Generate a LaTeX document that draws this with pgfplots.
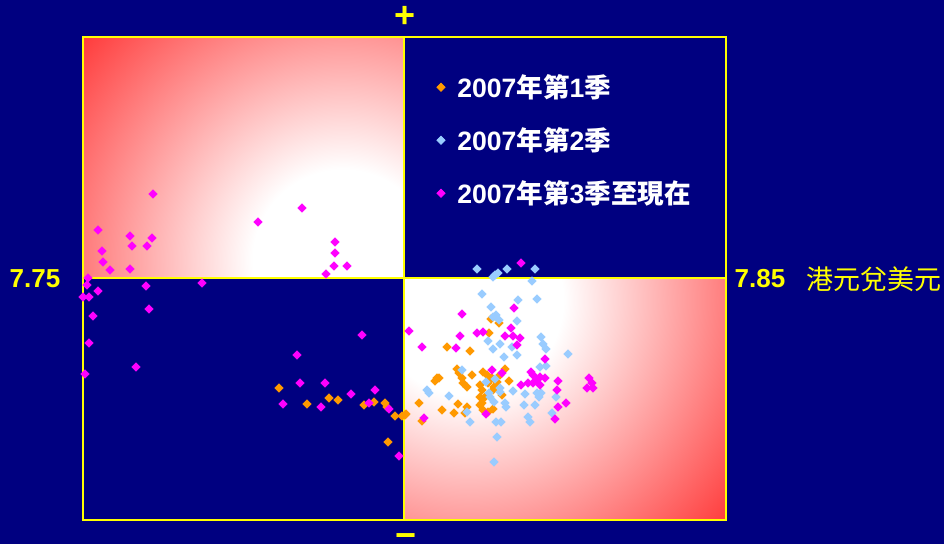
\documentclass[border=0pt]{standalone}
\usepackage{pgfplots}
\pgfplotsset{compat=1.18}
\usepackage{fontspec}
\setmainfont{Liberation Sans}
\newfontfamily\cjk{Noto Sans CJK TC}

\definecolor{bgnavy}{RGB}{0,0,128}
\definecolor{qred}{RGB}{255,60,60}
\definecolor{q1}{RGB}{255,153,0}
\definecolor{q2}{RGB}{153,204,255}
\definecolor{q3}{RGB}{255,0,255}
\definecolor{lblyellow}{RGB}{255,255,0}

\pgfdeclareradialshading{quadA}{\pgfpoint{0bp}{0bp}}{color(0bp)=(white); color(6.6bp)=(white); color(25bp)=(qred); color(50bp)=(qred)}
\pgfdeclareradialshading{quadB}{\pgfpoint{0bp}{0bp}}{color(0bp)=(white); color(7bp)=(white); color(25bp)=(qred); color(50bp)=(qred)}

% points are stored in picture pixels (x to the right, y downward)
\pgfplotstableread{
x y
279 388
329 398
338 400
307 404
364 405
374 402
385 403
387 407
395 416
402 416
406 414
388 442
447 347
435 381
439 378
419 403
442 410
422 421
491 319
499 323
489 333
470 351
457 369
459 373
472 375
437 378
462 378
463 383
467 387
483 372
487 375
492 378
488 383
497 382
500 375
505 369
509 381
480 385
482 390
480 397
485 397
482 403
494 387
493 390
502 395
454 413
458 404
467 407
480 405
483 410
488 412
493 409
465 413
405 415
}\firstq

\pgfplotstableread{
x y
477 269
495 275
498 273
493 277
507 269
535 269
532 281
482 294
537 299
518 300
491 307
496 315
499 320
493 317
517 321
541 337
543 344
546 349
488 341
500 344
493 349
512 347
504 357
517 355
568 354
540 367
546 366
462 370
427 390
429 393
449 396
486 382
495 379
500 388
500 392
489 393
490 397
513 391
525 394
537 393
541 393
539 397
556 397
494 402
505 403
506 407
524 405
535 405
467 412
552 413
528 417
530 422
470 422
496 422
501 422
497 437
494 462
}\secondq

\pgfplotstableread{
x y
153 194
302 208
258 222
98 230
130 236
152 238
132 246
147 246
335 242
102 251
335 253
103 262
110 270
130 269
334 266
347 266
326 274
88 278
87 285
98 291
146 286
202 283
83 297
89 297
149 309
93 316
362 335
89 343
297 355
136 367
85 374
300 383
325 383
375 390
351 394
283 404
321 407
369 403
389 409
399 456
409 331
422 347
424 418
521 263
514 308
462 314
460 336
456 348
477 333
483 332
505 336
511 328
513 336
520 338
517 345
545 359
492 370
502 373
531 372
533 375
537 380
540 377
545 378
521 385
528 383
533 383
540 385
558 381
557 390
589 378
592 383
587 388
593 388
566 403
558 407
555 419
486 414
}\thirdq

\begin{document}
\begin{tikzpicture}
\begin{axis}[
  set layers,
  x=0.5pt, y=0.5pt,
  xmin=83, xmax=726, ymin=37, ymax=520,
  y dir=reverse,
  hide axis,
  clip=false,
  scale only axis,
  only marks,
  mark size=1.45pt,
  legend cell align=left,
  legend image code/.code={\path (0pt,0pt) (10pt,0pt);
    \draw[mark repeat=2,mark phase=2,#1] plot coordinates {(0pt,0pt) (4pt,0pt) (8pt,0pt)};},
  legend style={at={(0.543,0.932)}, anchor=north west, fill=none, draw=none,
    text=white, font=\fontsize{13.3}{16}\selectfont\bfseries,
    row sep=9.5pt, inner sep=0pt},
]
\begin{pgfonlayer}{axis background}
  \fill[bgnavy] (axis cs:0,0) rectangle (axis cs:944,544);
  \begin{scope}
    \clip (axis cs:83,37) rectangle (axis cs:404,278);
    \shade[shading=quadA] (axis cs:343,260) circle[radius=171pt];
  \end{scope}
  \begin{scope}
    \clip (axis cs:404,278) rectangle (axis cs:726,520);
    \shade[shading=quadB] (axis cs:468,300) circle[radius=170pt];
  \end{scope}
  \draw[lblyellow, line width=1pt] (axis cs:83,37) rectangle (axis cs:726,520);
  \draw[lblyellow, line width=1pt] (axis cs:404,37) -- (axis cs:404,520);
  \draw[lblyellow, line width=1pt] (axis cs:83,278) -- (axis cs:726,278);
\end{pgfonlayer}

\addplot[mark=square*, mark options={rotate=45, fill=q1, draw=q1}] table {\firstq};
\addlegendentry{2007{\cjk 年第}1{\cjk 季}}
\addplot[mark=square*, mark options={rotate=45, fill=q2, draw=q2}] table {\secondq};
\addlegendentry{2007{\cjk 年第}2{\cjk 季}}
\addplot[mark=square*, mark options={rotate=45, fill=q3, draw=q3}] table {\thirdq};
\addlegendentry{2007{\cjk 年第}3{\cjk 季至現在}}

\node[text=lblyellow, font=\fontsize{13}{15}\selectfont\bfseries] at (axis cs:35,279) {7.75};
\node[text=lblyellow, font=\fontsize{13}{15}\selectfont\bfseries] at (axis cs:760,279) {7.85};
\node[text=lblyellow, font=\fontsize{13.5}{16}\selectfont\cjk] at (axis cs:874,279) {港元兌美元};
\node[text=lblyellow, font=\fontsize{18}{20}\selectfont\bfseries] at (axis cs:405,17) {+};
\node[text=lblyellow, font=\fontsize{18}{20}\selectfont\bfseries] at (axis cs:406,541) {−};

\coordinate (bgA) at (axis cs:0,544);
\coordinate (bgB) at (axis cs:944,0);
\end{axis}
\pgfresetboundingbox
\useasboundingbox (bgA) rectangle (bgB);
\end{tikzpicture}
\end{document}
